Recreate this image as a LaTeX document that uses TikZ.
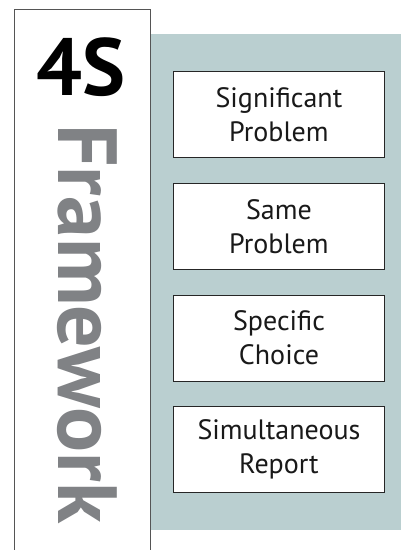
\documentclass[tikz,border=0pt]{standalone}
\usepackage{fontspec}
\setmainfont{PT Sans}
\definecolor{panel}{HTML}{BACFD0}
\definecolor{title}{HTML}{808285}
\definecolor{frameline}{HTML}{555555}
\begin{document}
\begin{tikzpicture}[x=1pt,y=-1pt,
  itembox/.style={draw=black!85,line width=0.9pt,fill=white,minimum width=211pt,minimum height=86pt,
    inner sep=0pt,align=center,font=\fontsize{28}{34}\selectfont,text=black!90},
]
\useasboundingbox (0,0) rectangle (401,550);
\fill[white] (0,0) rectangle (401,550);
% left white panel
\draw[frameline,line width=0.9pt] (14,552) -- (14,9) -- (150,9) -- (150,552);
% teal panel
\fill[panel] (150.5,34) rectangle (401,530);
% title texts
\node[inner sep=0pt,anchor=base,font=\bfseries\fontsize{81}{81}\selectfont] (t4s) at (81,95) {4S};
\node[inner sep=0pt,anchor=base west,rotate=-90,text=title,font=\bfseries\fontsize{84}{84}\selectfont] (tfw) at (58,124) {Framework};
% boxes
\node[itembox,anchor=north west] (b1) at (173,71) {Significant\\Problem};
\node[itembox,anchor=north west] (b2) at (173,183) {Same\\Problem};
\node[itembox,anchor=north west] (b3) at (173,294.5) {Specific\\Choice};
\node[itembox,anchor=north west] (b4) at (173,406) {Simultaneous\\Report};
\end{tikzpicture}
\end{document}
